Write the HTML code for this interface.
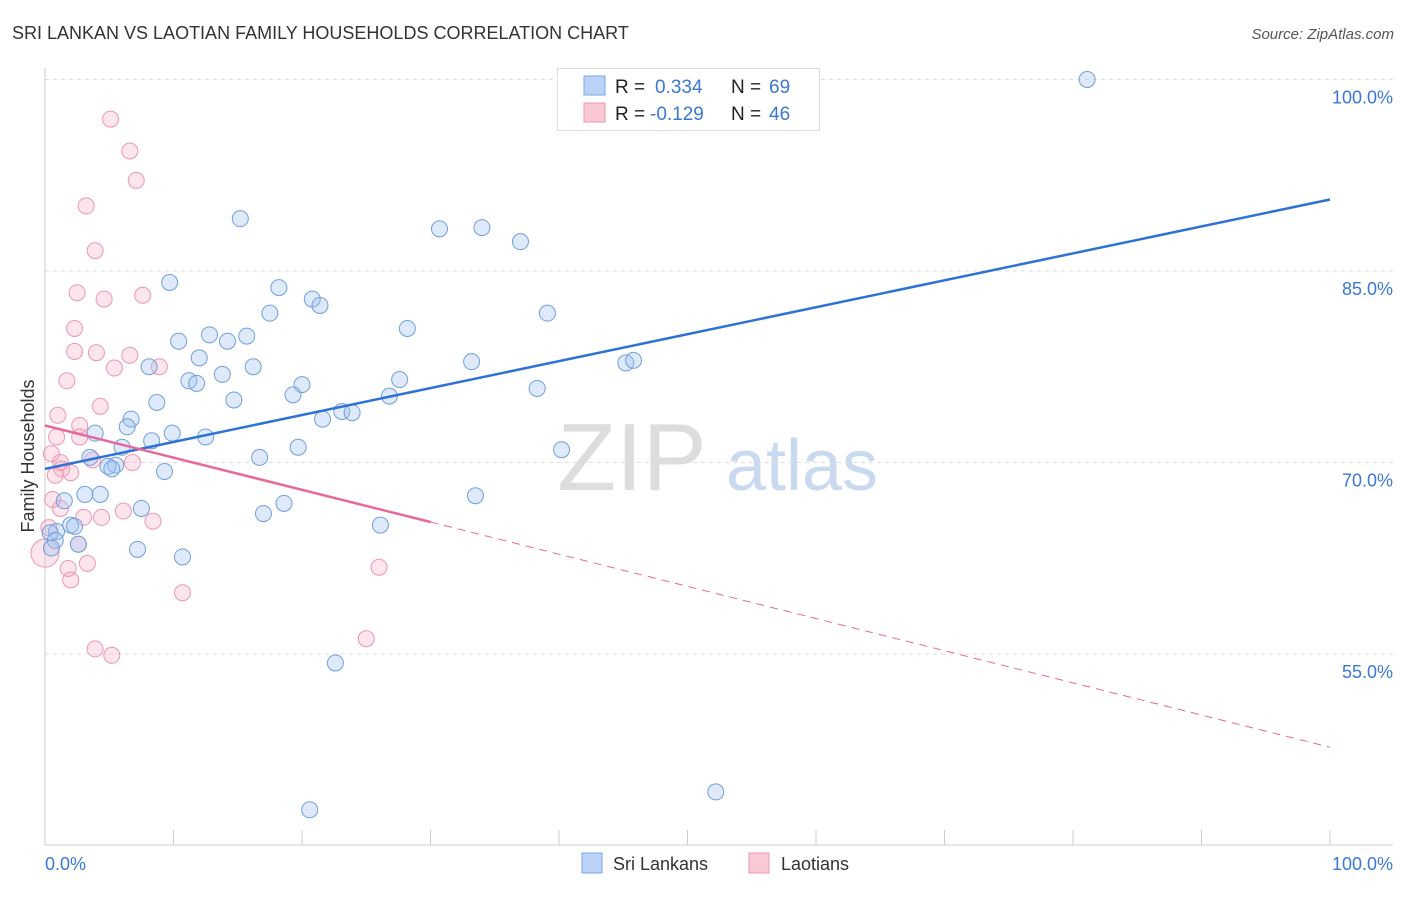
<!DOCTYPE html>
<html><head><meta charset="utf-8">
<style>
body{margin:0;background:#fff;font-family:"Liberation Sans",sans-serif;}
svg text{font-family:"Liberation Sans",sans-serif;}
</style></head>
<body>
<svg id="chart" width="1406" height="892" viewBox="0 0 1406 892" xmlns="http://www.w3.org/2000/svg">
<text x="12" y="39" font-size="18" fill="#333">SRI LANKAN VS LAOTIAN FAMILY HOUSEHOLDS CORRELATION CHART</text>
<text x="1394" y="39" font-size="15" fill="#555" font-style="italic" text-anchor="end">Source: ZipAtlas.com</text>
<g>
<text x="632" y="490" font-size="96" fill="#ddd" font-family="Liberation Serif" text-anchor="middle">ZIP</text>
<text x="802" y="490" font-size="72" fill="#c9d9ef" text-anchor="middle">atlas</text>
</g>
<g id="grid"></g>
<g id="axes"></g>
<g id="points"></g>
<g id="lines"></g>
<text x="34" y="456" font-size="18" fill="#333" text-anchor="middle" transform="rotate(-90 34 456)">Family Households</text>
<text x="45" y="870" font-size="18" fill="#3a78d4">0.0%</text>
<text x="1393" y="870" font-size="18" fill="#3a78d4" text-anchor="end">100.0%</text>
<g>
<rect x="557.5" y="68.5" width="262" height="62" fill="#fff" stroke="#ddd"/>
<rect x="584" y="76" width="21" height="19" fill="#b9d2f5" stroke="#7aa7e6"/>
<rect x="584" y="103" width="21" height="19" fill="#f9c9d6" stroke="#ef95b0"/>
<text x="615" y="93" font-size="19" fill="#222">R = </text><text x="655" y="93" font-size="19" fill="#3a78d4">0.334</text>
<text x="731" y="93" font-size="19" fill="#222">N = </text><text x="769" y="93" font-size="19" fill="#3a78d4">69</text>
<text x="615" y="120" font-size="19" fill="#222">R = </text><text x="650" y="120" font-size="19" fill="#3a78d4">-0.129</text>
<text x="731" y="120" font-size="19" fill="#222">N = </text><text x="769" y="120" font-size="19" fill="#3a78d4">46</text>
</g>
<g>
<rect x="582" y="853" width="20" height="20" fill="#b9d2f5" stroke="#7aa7e6"/>
<text x="613" y="870" font-size="18" fill="#333">Sri Lankans</text>
<rect x="749" y="853" width="20" height="20" fill="#f9c9d6" stroke="#ef95b0"/>
<text x="781" y="870" font-size="18" fill="#333">Laotians</text>
</g>
</svg>
<script>
const blueX=[81.1,15.2,30.7,34.0,37.0,9.7,18.2,20.8,21.4,17.5,39.1,28.2,12.8,15.7,14.2,10.4,12.0,33.2,45.2,45.8,8.1,16.2,13.8,11.2,11.8,27.6,20.0,38.3,19.3,26.8,14.7,8.7,23.1,23.9,21.6,6.7,6.4,3.9,9.9,12.5,8.3,6.0,19.7,40.2,3.5,16.7,5.5,4.9,5.2,9.3,3.1,4.3,33.5,1.5,18.6,7.5,17.0,2.0,2.3,26.1,0.9,0.4,0.8,2.6,0.5,7.2,10.7,22.6,52.2,20.6];
const blueY=[100.0,89.1,88.3,88.4,87.3,84.1,83.7,82.8,82.3,81.7,81.7,80.5,80.0,79.9,79.5,79.5,78.2,77.9,77.8,78.0,77.5,77.5,76.9,76.4,76.2,76.5,76.1,75.8,75.3,75.2,74.9,74.7,74.0,73.9,73.4,73.4,72.8,72.3,72.3,72.0,71.7,71.2,71.2,71.0,70.4,70.4,69.8,69.7,69.5,69.3,67.5,67.5,67.4,67.0,66.8,66.4,66.0,65.1,65.0,65.1,64.6,64.5,63.9,63.6,63.3,63.2,62.6,54.3,44.2,42.8];
const pinkX=[5.1,6.6,7.1,3.2,3.9,2.5,4.6,7.6,2.3,2.3,4.0,6.6,5.4,8.9,1.7,4.3,1.0,2.7,0.9,2.7,0.5,3.7,1.2,6.8,1.3,2.0,0.8,0.6,1.2,6.1,4.4,3.0,8.4,0.3,2.6,0.0,3.3,1.8,26.0,2.0,10.7,25.0,3.9,5.2];
const pinkY=[96.9,94.4,92.1,90.1,86.6,83.3,82.8,83.1,80.5,78.7,78.6,78.4,77.4,77.5,76.4,74.4,73.7,72.9,72.0,72.0,70.7,70.2,70.0,70.0,69.5,69.2,69.0,67.1,66.4,66.2,65.7,65.7,65.4,64.9,63.6,62.9,62.1,61.7,61.8,60.8,59.8,56.2,55.4,54.9];
const yTicks=[100,85,70,55];
const yTickLabels=["100.0%","85.0%","70.0%","55.0%"];
const blueTrend=[69.5,90.6];
const pinkTrend=[72.9,47.7];
const pinkSolidEnd=30;

const X0=45,X1=1330,YTOP=79.5,PXPER=12.767;
const sx=v=>X0+(X1-X0)*v/100;
const sy=v=>YTOP+(100-v)*PXPER;
const NS="http://www.w3.org/2000/svg";
function mk(tag,attrs,parent){const e=document.createElementNS(NS,tag);for(const k in attrs)e.setAttribute(k,attrs[k]);document.getElementById(parent).appendChild(e);return e;}
yTicks.forEach((t,i)=>{
  const g=mk('line',{x1:45,x2:1393,y1:sy(t),y2:sy(t),stroke:'#ddd','stroke-dasharray':'4,4'},'grid');
  
  
  const l=mk('text',{x:1393,y:sy(t)+24,'font-size':18,fill:'#3a78d4','text-anchor':'end'},'grid');
  l.textContent=yTickLabels[i];
  
  
});
const ax=mk('line',{x1:45,x2:45,y1:68,y2:845,stroke:'#ccc'},'axes');


const bx=mk('line',{x1:45,x2:1393,y1:845,y2:845,stroke:'#ccc'},'axes');


for(let i=0;i<=10;i++){
  const t=mk('line',{x1:sx(i*10),x2:sx(i*10),y1:830,y2:845,stroke:'#ccc'},'axes');
  
  
}
pinkX.forEach((x,i)=>{
  const c=mk('circle',{cx:sx(x),cy:sy(pinkY[i]),r:(x===0?14:8),fill:'rgba(246,170,195,0.3)',stroke:'#ee95b1','stroke-width':1},'points');
  
  
});
blueX.forEach((x,i)=>{
  const c=mk('circle',{cx:sx(x),cy:sy(blueY[i]),r:8,fill:'rgba(160,195,240,0.35)',stroke:'#6f9fdc','stroke-width':1},'points');
  
  
});
const bl=mk('line',{x1:sx(0),y1:sy(blueTrend[0]),x2:sx(100),y2:sy(blueTrend[1]),stroke:'#2f72d6','stroke-width':2.5},'lines');


const py=x=>pinkTrend[0]+(pinkTrend[1]-pinkTrend[0])*x/100;
const pl=mk('line',{x1:sx(0),y1:sy(py(0)),x2:sx(pinkSolidEnd),y2:sy(py(pinkSolidEnd)),stroke:'#e8689a','stroke-width':2.5},'lines');


const pd=mk('line',{x1:sx(pinkSolidEnd),y1:sy(py(pinkSolidEnd)),x2:sx(100),y2:sy(py(100)),stroke:'#e8689a','stroke-width':1,'stroke-dasharray':'8,6'},'lines');


</script>
</body></html>
